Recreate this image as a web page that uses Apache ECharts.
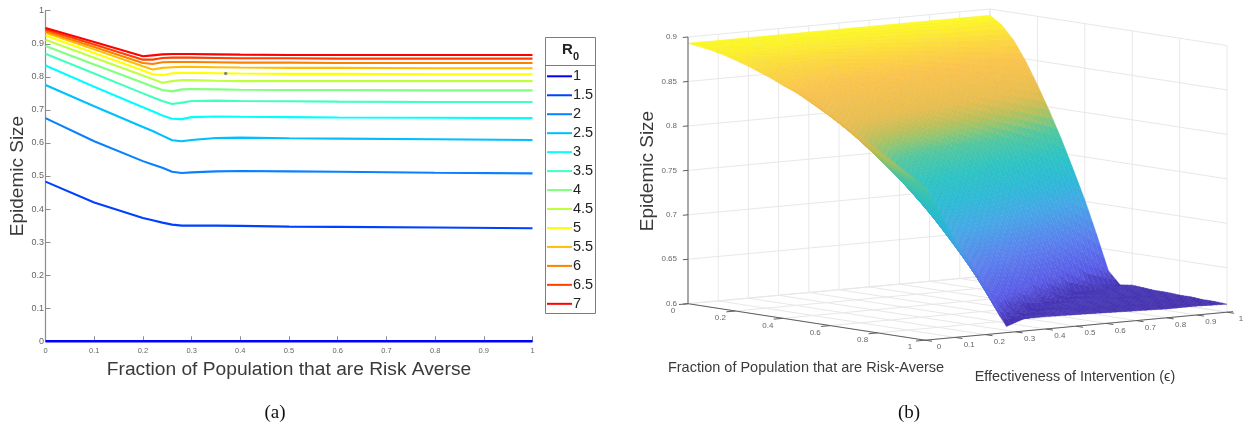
<!DOCTYPE html>
<html><head><meta charset="utf-8">
<style>html,body{margin:0;padding:0;background:#fff}#c{width:1244px;height:427px}</style>
<script src="https://cdn.jsdelivr.net/npm/echarts@6/dist/echarts.min.js"></script>
</head><body><div id="c"></div>
<script>
// ---------- panel (a) data ----------
const xs =   [0,.1,.2,.22,.24,.26,.28,.3,.35,.4,.5,.6,.8,1];
const r1_0 = [0,0,0,0,0,0,0,0,0,0,0,0,0,0];
const r1_5 = [.483,.42,.373,.366,.359,.353,.35,.35,.35,.349,.347,.346,.344,.342];
const r2_0 = [.675,.605,.545,.535,.525,.513,.509,.511,.514,.515,.514,.513,.51,.508];
const r2_5 = [.775,.711,.648,.636,.622,.608,.605,.609,.615,.616,.614,.613,.611,.609];
const r3_0 = [.834,.77,.708,.696,.683,.673,.672,.678,.68,.679,.678,.677,.676,.675];
const r3_5 = [.87,.81,.75,.738,.727,.718,.722,.727,.728,.727,.726,.725,.724,.724];
const r4_0 = [.893,.837,.782,.771,.76,.756,.762,.763,.762,.761,.76,.76,.759,.759];
const r4_5 = [.912,.858,.804,.793,.782,.787,.79,.79,.788,.787,.787,.787,.787,.787];
const r5_0 = [.925,.872,.819,.808,.805,.811,.812,.812,.811,.81,.809,.809,.808,.808];
const r5_5 = [.933,.883,.832,.822,.827,.829,.83,.83,.829,.828,.827,.827,.826,.826];
const r6_0 = [.938,.89,.842,.839,.844,.845,.845,.845,.844,.843,.843,.842,.842,.842];
const r6_5 = [.943,.898,.852,.852,.857,.858,.858,.858,.857,.856,.856,.855,.855,.855];
const r7_0 = [.948,.905,.862,.865,.868,.869,.869,.869,.868,.867,.866,.866,.866,.866];
const r0Names = ['1','1.5','2','2.5','3','3.5','4','4.5','5','5.5','6','6.5','7'];
const r0Values = [r1_0,r1_5,r2_0,r2_5,r3_0,r3_5,r4_0,r4_5,r5_0,r5_5,r6_0,r6_5,r7_0];
const r0Colors = ['#0000ff','#0040ff','#0a80ff','#00bfff','#00ffff','#40ffbf','#80ff80','#bfff40','#ffff00','#ffbf00','#ff8000','#ff4000','#ff0000'];
const strayPoint = [.37,.81];

// ---------- panel (b) data: z[e row][x column] ----------
const surfX = [0,.05,.1,.15,.2,.25,.3,.35,.4,.45,.5,.55,.6,.65,.7,.75,.8,.85,.9,.95,1];
const surfE = [0,.1,.2,.25,.27,.33,.4,.5,.6,.7,.8,.9,1];
const surfE00 = [.893,.891,.889,.886,.882,.878,.873,.868,.862,.857,.850,.843,.836,.829,.821,.814,.806,.798,.790,.782,.773];
const surfE01 = [.893,.891,.887,.881,.876,.870,.862,.853,.845,.836,.826,.815,.805,.794,.783,.772,.760,.748,.734,.722,.709];
const surfE02 = [.893,.890,.885,.878,.871,.862,.852,.841,.829,.817,.804,.791,.778,.764,.749,.733,.718,.702,.685,.668,.649];
const surfE25 = [.893,.890,.884,.877,.869,.859,.847,.835,.822,.809,.795,.780,.765,.750,.733,.716,.699,.681,.662,.640,.618];
const surfE27 = [.893,.890,.883,.876,.867,.857,.845,.832,.819,.805,.790,.775,.760,.743,.726,.709,.691,.671,.651,.632,.607];
const surfE33 = [.893,.889,.883,.874,.864,.853,.840,.825,.811,.795,.779,.762,.745,.726,.707,.688,.667,.645,.623,.610,.614];
const surfE04 = [.893,.889,.881,.872,.861,.848,.833,.818,.802,.785,.767,.749,.729,.709,.688,.665,.642,.617,.611,.614,.614];
const surfE05 = [.893,.888,.880,.870,.857,.842,.826,.809,.790,.772,.752,.730,.709,.686,.661,.636,.609,.612,.615,.614,.613];
const surfE06 = [.893,.887,.878,.866,.851,.833,.815,.795,.775,.753,.729,.705,.679,.651,.622,.611,.615,.614,.613,.613,.612];
const surfE07 = [.893,.886,.876,.862,.844,.824,.803,.781,.758,.731,.705,.677,.647,.615,.612,.615,.614,.613,.612,.612,.611];
const surfE08 = [.893,.885,.873,.857,.837,.815,.791,.766,.739,.710,.680,.647,.611,.613,.614,.613,.613,.612,.611,.611,.610];
const surfE09 = [.893,.885,.871,.853,.830,.806,.780,.752,.721,.689,.653,.615,.613,.614,.613,.612,.612,.611,.611,.610,.610];
const surfE10 = [.893,.884,.869,.848,.823,.796,.767,.735,.702,.665,.626,.612,.614,.613,.612,.612,.611,.611,.610,.610,.609];
const surfZ = [surfE00,surfE01,surfE02,surfE25,surfE27,surfE33,surfE04,surfE05,surfE06,surfE07,surfE08,surfE09,surfE10];
const riskTicks = [0,.2,.4,.6,.8,1];
const effTicks = [0,.1,.2,.3,.4,.5,.6,.7,.8,.9,1];
const sizeTicks = [.6,.65,.7,.75,.8,.85,.9];

// colour ramp
const rampZ = [.60,.612,.63,.665,.70,.725,.75,.775,.79,.80,.815,.85,.87,.885,.895];
const rampC = [[66,44,165],[70,52,180],[90,90,232],[90,128,240],[68,168,232],[44,186,216],[44,196,196],[80,200,160],[150,198,110],[192,192,88],[232,190,80],[252,196,76],[254,216,62],[255,240,44],[255,255,32]];
function zColor(z){
  let i=0; while(i<rampZ.length-2 && z>rampZ[i+1]) i++;
  const t=Math.max(0,Math.min(1,(z-rampZ[i])/(rampZ[i+1]-rampZ[i])));
  return rampC[i].map((c,k)=>c+(rampC[i+1][k]-c)*t);
}
// Orthographic view of the 3-D box mapped onto the hidden axes of the second grid
function proj(x,e,z){ return [(237*x+302*e)/539, z-.04106*x+.0315*e]; }

const cells=[];
for(let i=0;i<surfX.length-1;i++) for(let j=surfE.length-2;j>=0;j--) cells.push([i,j]);
const SUBX=3, SUBE_PER_TENTH=6;
function renderSurface(params,api){
  const c=cells[params.dataIndex], i=c[0], j=c[1];
  const z00=surfZ[j][i], z10=surfZ[j][i+1], z01=surfZ[j+1][i], z11=surfZ[j+1][i+1];
  const x0=surfX[i],x1=surfX[i+1],e0=surfE[j],e1=surfE[j+1];
  const SUBE=Math.max(1,Math.round((e1-e0)*10*SUBE_PER_TENTH));
  const pt=(a,b)=>{
    const z=(1-a)*(1-b)*z00+a*(1-b)*z10+(1-a)*b*z01+a*b*z11;
    return {z,p:api.coord(proj(x0+(x1-x0)*a,e0+(e1-e0)*b,z))};
  };
  const children=[];
  for(let a=0;a<SUBX;a++) for(let b=SUBE-1;b>=0;b--){
    const A=pt(a/SUBX,b/SUBE),B=pt((a+1)/SUBX,b/SUBE),C=pt((a+1)/SUBX,(b+1)/SUBE),D=pt(a/SUBX,(b+1)/SUBE);
    const col=zColor((A.z+B.z+C.z+D.z)/4);
    const f=col.map(v=>Math.round(v));
    const s=col.map(v=>Math.round(v*.965));
    children.push({type:'polygon',shape:{points:[A.p,B.p,C.p,D.p]},
      style:{fill:`rgb(${f})`,stroke:`rgb(${s})`,lineWidth:.4},silent:true});
  }
  return {type:'group',children,silent:true};
}

// wall and floor grid lines
const gridSegs=[];
sizeTicks.forEach(z=>{ gridSegs.push([0,0,z,0,1,z]); gridSegs.push([0,1,z,1,1,z]); });
effTicks.forEach(e=>{ gridSegs.push([0,e,.6,0,e,.9]); gridSegs.push([0,e,.6,1,e,.6]); });
riskTicks.forEach(x=>{ gridSegs.push([x,1,.6,x,1,.9]); gridSegs.push([x,0,.6,x,1,.6]); });
const axisSegs=[[0,0,.6,0,0,.9],[0,0,.6,1,0,.6],[1,0,.6,1,1.02,.6]];
sizeTicks.forEach(z=>axisSegs.push([0,0,z,0,-.017,z]));
riskTicks.forEach(x=>axisSegs.push([x,0,.6,x,-.03,.6]));
effTicks.forEach(e=>axisSegs.push([1,e,.6,1.03,e,.6]));

// tick labels of panel (b)
const labels3d=[];
riskTicks.forEach(x=>labels3d.push({t:String(x),p:[x,0,.6],dx:-15,dy:7,a:'center'}));
effTicks.forEach(e=>labels3d.push({t:String(e),p:[1,e,.6],dx:14,dy:7,a:'center'}));
sizeTicks.forEach(z=>labels3d.push({t:String(z),p:[0,0,z],dx:-11,dy:0,a:'right'}));

const SANS='"Liberation Sans",Arial,sans-serif', SERIF='"Liberation Serif","Times New Roman",serif';
const axisGrey='#8c8c8c';

const lineSeries=r0Names.map((n,k)=>({
  name:n,type:'line',xAxisIndex:0,yAxisIndex:0,showSymbol:false,symbol:'none',smooth:false,
  data:xs.map((x,i)=>[x,r0Values[k][i]]),
  lineStyle:{color:r0Colors[k],width:k===0?2.6:2.1},itemStyle:{color:r0Colors[k]},
  clip:false,animation:false,silent:true
}));

const option={
  animation:false,backgroundColor:'#fff',
  textStyle:{fontFamily:SANS},
  grid:[
    {left:45.5,top:10.7,width:487,height:330.6,containLabel:false,outerBoundsMode:'none'},
    {left:688,top:5.9,width:539,height:342.25,containLabel:false,outerBoundsMode:'none'}
  ],
  xAxis:[
    {gridIndex:0,type:'value',min:0,max:1,interval:.1,splitLine:{show:false},
     axisLine:{lineStyle:{color:axisGrey,width:1.2}},axisTick:{inside:true,length:5,lineStyle:{color:axisGrey}},
     axisLabel:{fontSize:7.5,color:'#666',margin:6,fontFamily:SANS,hideOverlap:false,showMinLabel:true,showMaxLabel:true},
     name:'Fraction of Population that are Risk Averse',nameLocation:'middle',nameGap:19,
     nameTextStyle:{fontSize:19.2,color:'#3a3a3a',fontFamily:SANS}},
    {gridIndex:1,type:'value',min:0,max:1,show:false}
  ],
  yAxis:[
    {gridIndex:0,type:'value',min:0,max:1,interval:.1,splitLine:{show:false},
     axisLine:{lineStyle:{color:axisGrey,width:1.2}},axisTick:{inside:true,length:5,lineStyle:{color:axisGrey}},
     axisLabel:{fontSize:9,color:'#666',margin:1.5,fontFamily:SANS},
     name:'Epidemic Size',nameLocation:'middle',nameGap:17,nameRotate:90,
     nameTextStyle:{fontSize:19,color:'#3a3a3a',fontFamily:SANS}},
    {gridIndex:1,type:'value',min:.55,max:.935,show:false}
  ],
  legend:{
    data:r0Names,orient:'vertical',left:547,top:68.8,padding:0,itemWidth:25,itemHeight:2,itemGap:3.96,icon:'rect',
    textStyle:{fontSize:14.5,color:'#222',fontFamily:SANS,lineHeight:15,height:15,padding:[0,0,0,-4]},
    selectedMode:false
  },
  graphic:[
    {type:'rect',shape:{x:545.5,y:37.5,width:50,height:276},style:{fill:'rgba(0,0,0,0)',stroke:'#7d7d7d',lineWidth:1},silent:true},
    {type:'line',shape:{x1:545.5,y1:65.5,x2:595.5,y2:65.5},style:{stroke:'#7d7d7d',lineWidth:1},silent:true},
    {type:'text',x:562,y:42,style:{text:'R',font:'bold 15px '+SANS,fill:'#222'},silent:true},
    {type:'text',x:573,y:51,style:{text:'0',font:'bold 11px '+SANS,fill:'#222'},silent:true},
    {type:'text',x:275,y:413,style:{text:'(a)',font:'19px '+SERIF,fill:'#111',textAlign:'center',textVerticalAlign:'middle'},silent:true},
    {type:'text',x:909,y:413,style:{text:'(b)',font:'19px '+SERIF,fill:'#111',textAlign:'center',textVerticalAlign:'middle'},silent:true},
    {type:'text',x:648,y:171,rotation:Math.PI/2,style:{text:'Epidemic Size',font:'19px '+SANS,fill:'#3a3a3a',textAlign:'center',textVerticalAlign:'middle'},silent:true},
    {type:'text',x:806,y:368,style:{text:'Fraction of Population that are Risk-Averse',font:'14.5px '+SANS,fill:'#3a3a3a',textAlign:'center',textVerticalAlign:'middle'},silent:true},
    {type:'text',x:1075,y:377,style:{text:'Effectiveness of Intervention (\u03F5)',font:'14.4px '+SANS,fill:'#3a3a3a',textAlign:'center',textVerticalAlign:'middle'},silent:true}
  ],
  series:[
    ...lineSeries,
    {name:'stray',type:'scatter',xAxisIndex:0,yAxisIndex:0,data:[strayPoint],symbolSize:3.5,itemStyle:{color:'#6a6a8a'},z:5,silent:true,animation:false},
    {name:'walls',type:'custom',xAxisIndex:1,yAxisIndex:1,data:gridSegs.map((_,i)=>[i]),silent:true,animation:false,clip:false,
     renderItem:(params,api)=>{const s=gridSegs[params.dataIndex],a=api.coord(proj(s[0],s[1],s[2])),b=api.coord(proj(s[3],s[4],s[5]));
       return {type:'line',shape:{x1:a[0],y1:a[1],x2:b[0],y2:b[1]},style:{stroke:'#e8e8e8',lineWidth:1,fill:null},silent:true};}},
    {name:'surface',type:'custom',xAxisIndex:1,yAxisIndex:1,data:cells.map((_,i)=>[i]),silent:true,animation:false,clip:false,progressive:0,
     renderItem:renderSurface},
    {name:'axes3d',type:'custom',xAxisIndex:1,yAxisIndex:1,data:axisSegs.map((_,i)=>[i]),silent:true,animation:false,clip:false,
     renderItem:(params,api)=>{const s=axisSegs[params.dataIndex],a=api.coord(proj(s[0],s[1],s[2])),b=api.coord(proj(s[3],s[4],s[5]));
       return {type:'line',shape:{x1:a[0],y1:a[1],x2:b[0],y2:b[1]},style:{stroke:'#5f5f5f',lineWidth:1,fill:null},silent:true};}},
    {name:'labels3d',type:'custom',xAxisIndex:1,yAxisIndex:1,data:labels3d.map((_,i)=>[i]),silent:true,animation:false,clip:false,
     renderItem:(params,api)=>{const l=labels3d[params.dataIndex],a=api.coord(proj(l.p[0],l.p[1],l.p[2]));
       return {type:'text',x:a[0]+l.dx,y:a[1]+l.dy,style:{text:l.t,font:'8px '+SANS,fill:'#666',textAlign:l.a,textVerticalAlign:'middle'},silent:true};}}
  ]
};
const chart=echarts.init(document.getElementById('c'),null,{renderer:'canvas'});
chart.setOption(option);
</script></body></html>
